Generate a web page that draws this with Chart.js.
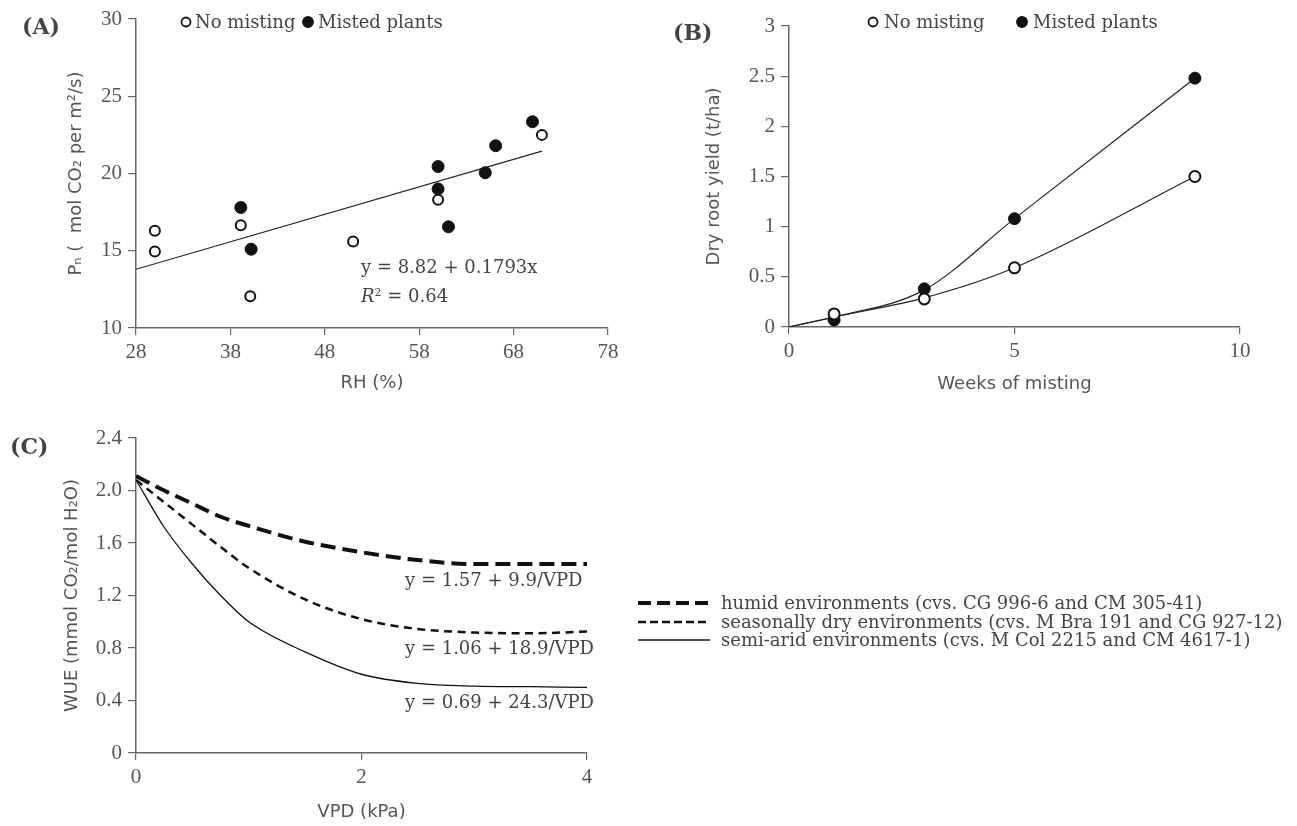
<!DOCTYPE html>
<html>
<head>
<meta charset="utf-8">
<script src="https://cdn.jsdelivr.net/npm/chart.js@4.4.1/dist/chart.umd.min.js"></script>
<style>
  body { margin: 0; background: #fff; }
  #wrap { position: relative; width: 1297px; height: 826px; overflow: hidden; }
  canvas { position: absolute; }
  .tag { position: absolute; font: bold 22px 'DejaVu Serif', serif; color: #444; line-height: 26px; }
  .eq { position: absolute; font: 18px 'DejaVu Serif', serif; color: #444; line-height: 20px; white-space: nowrap; }
  .eq sup { font-size: 11px; vertical-align: 6px; }
</style>
</head>
<body>
<div id="wrap">
  <canvas id="rh" width="640" height="400" style="left:0;top:0"></canvas>
  <canvas id="weeks" width="657" height="400" style="left:640px;top:0"></canvas>
  <canvas id="vpd" width="1297" height="426" style="left:0;top:400px"></canvas>
  <div class="tag" style="left:22px;top:13px">(A)</div>
  <div class="tag" style="left:673px;top:19px">(B)</div>
  <div class="tag" style="left:10px;top:433px">(C)</div>
  <div class="eq" style="left:361px;top:257px">y = 8.82 + 0.1793x</div>
  <div class="eq" style="left:361px;top:283px"><i>R</i><sup>2</sup> = 0.64</div>
  <div class="eq" style="left:405px;top:570px">y = 1.57 + 9.9/VPD</div>
  <div class="eq" style="left:405px;top:638px">y = 1.06 + 18.9/VPD</div>
  <div class="eq" style="left:405px;top:692px">y = 0.69 + 24.3/VPD</div>
</div>
<script>
// (A) photosynthesis vs relative humidity
const rhNoMist = [30, 30, 39.1, 40.1, 51, 60, 71];
const pnNoMist = [16.3, 14.95, 16.65, 12.05, 15.6, 18.3, 22.5];
const rhMisted = [39.1, 40.2, 60, 60, 61.1, 65, 66.1, 70];
const pnMisted = [17.8, 15.1, 20.45, 19.0, 16.55, 20.05, 21.8, 23.35];
const rhFit = [28, 71];
const pnFit = [13.8, 21.45];
const rhTicks = [28, 38, 48, 58, 68, 78];
const pnTicks = [10, 15, 20, 25, 30];

// (B) root yield vs weeks of misting
const weeks = [1, 3, 5, 9];
const yieldNoMist = [0.13, 0.28, 0.59, 1.5];
const yieldMisted = [0.07, 0.38, 1.08, 2.48];
const curveWeeks = [0, 1, 3, 5, 9];
const curveNoMist = [0, 0.1, 0.29, 0.59, 1.5];
const curveMisted = [0, 0.1, 0.37, 1.08, 2.48];
const weekTicks = [0, 5, 10];
const yieldTicks = [0, 0.5, 1, 1.5, 2, 2.5, 3];

// (C) WUE vs VPD
const vpd = [0, 0.25, 0.5, 0.75, 1, 1.5, 2, 2.5, 3, 3.5, 4];
const wueHumid = [2.11, 2.0, 1.9, 1.8, 1.73, 1.61, 1.53, 1.47, 1.44, 1.44, 1.44];
const wueSeasonal = [2.08, 1.91, 1.74, 1.57, 1.41, 1.17, 1.02, 0.945, 0.918, 0.912, 0.925];
const wueSemiArid = [2.08, 1.72, 1.44, 1.2, 1.0, 0.77, 0.6, 0.53, 0.51, 0.505, 0.5];
const vpdTicks = [0, 2, 4];
const wueTicks = [0, 0.4, 0.8, 1.2, 1.6, 2.0, 2.4];

const grey = '#555';
const ink = '#111';
Chart.defaults.font.family = "'Liberation Serif', serif";
Chart.defaults.font.size = 21;
Chart.defaults.color = grey;

const pts = (xs, ys) => xs.map((x, i) => ({ x: x, y: ys[i] }));

function axis(o) {
  return {
    type: 'linear',
    position: o.horizontal ? 'bottom' : 'left',
    min: o.ticks[0],
    max: o.ticks[o.ticks.length - 1],
    afterBuildTicks: s => { s.ticks = o.ticks.map(v => ({ value: v })); },
    afterFit: s => { if (o.horizontal) s.height = o.fit; else s.width = o.fit; },
    ticks: {
      color: grey,
      padding: o.horizontal ? 5 : 6,
      maxRotation: 0,
      autoSkip: false,
      callback: o.format || (v => String(v))
    },
    grid: { drawOnChartArea: false, drawTicks: true, tickLength: o.horizontal ? 7 : 8, color: '#666', lineWidth: 1.2 },
    border: { display: true, color: '#666', width: 1.5 },
    title: {
      display: true,
      text: o.title,
      color: grey,
      font: { family: "'DejaVu Sans', sans-serif", size: 18 },
      padding: o.titlePad
    }
  };
}

// draws the small keys (legend) at fixed spots
const keyPlugin = {
  id: 'key',
  afterDatasetsDraw(chart, args, o) {
    if (!o.items) return;
    const ctx = chart.ctx;
    ctx.save();
    ctx.font = o.font;
    ctx.textBaseline = 'middle';
    o.items.forEach(it => {
      const ds = chart.data.datasets[it.ds];
      ctx.save();
      if (it.w) {
        ctx.strokeStyle = ds.borderColor;
        ctx.lineWidth = ds.borderWidth;
        ctx.setLineDash(it.dash || ds.borderDash || []);
        ctx.beginPath();
        ctx.moveTo(it.x, it.y);
        ctx.lineTo(it.x + it.w, it.y);
        ctx.stroke();
      } else {
        ctx.beginPath();
        ctx.arc(it.x, it.y, it.r, 0, Math.PI * 2);
        ctx.fillStyle = ds.pointBackgroundColor;
        ctx.fill();
        ctx.strokeStyle = ds.pointBorderColor;
        ctx.lineWidth = 1.8;
        ctx.stroke();
      }
      ctx.restore();
      ctx.fillStyle = o.color;
      ctx.fillText(ds.label, it.tx, it.y + 1);
    });
    ctx.restore();
  }
};

const base = { responsive: false, animation: false, events: [] };

new Chart(document.getElementById('rh'), {
  type: 'scatter',
  plugins: [keyPlugin],
  data: {
    datasets: [
      { label: 'No misting', data: pts(rhNoMist, pnNoMist), pointRadius: 5, pointBorderWidth: 2,
        pointBackgroundColor: '#fff', pointBorderColor: ink },
      { label: 'Misted plants', data: pts(rhMisted, pnMisted), pointRadius: 6, pointBorderWidth: 1,
        pointBackgroundColor: ink, pointBorderColor: ink },
      { label: 'fit', data: pts(rhFit, pnFit), showLine: true, pointRadius: 0, borderColor: '#222', borderWidth: 1.2 }
    ]
  },
  options: Object.assign({}, base, {
    layout: { padding: { left: 0, top: 19, right: 32, bottom: 0 } },
    scales: {
      x: axis({ horizontal: true, ticks: rhTicks, fit: 72, title: 'RH (%)', titlePad: { top: 0, bottom: 6 } }),
      y: axis({ ticks: pnTicks, fit: 136, title: 'Pₙ (  mol CO₂ per m²/s)', titlePad: { top: 66, bottom: 0 } })
    },
    plugins: {
      legend: { display: false },
      tooltip: { enabled: false },
      key: { font: "18px 'DejaVu Serif'", color: '#444', items: [
        { ds: 0, x: 186, y: 22, r: 4.5, tx: 195 },
        { ds: 1, x: 308, y: 22, r: 5, tx: 318 }
      ] }
    }
  })
});

new Chart(document.getElementById('weeks'), {
  type: 'scatter',
  plugins: [keyPlugin],
  data: {
    datasets: [
      { label: 'No misting', data: pts(weeks, yieldNoMist), pointRadius: 5.5, pointBorderWidth: 2,
        pointBackgroundColor: '#fff', pointBorderColor: ink },
      { label: 'Misted plants', data: pts(weeks, yieldMisted), pointRadius: 6, pointBorderWidth: 1,
        pointBackgroundColor: ink, pointBorderColor: ink },
      { label: 'curve no misting', data: pts(curveWeeks, curveNoMist), showLine: true, pointRadius: 0,
        borderColor: '#222', borderWidth: 1.2, cubicInterpolationMode: 'monotone' },
      { label: 'curve misted', data: pts(curveWeeks, curveMisted), showLine: true, pointRadius: 0,
        borderColor: '#222', borderWidth: 1.2, cubicInterpolationMode: 'monotone' }
    ]
  },
  options: Object.assign({}, base, {
    layout: { padding: { left: 0, top: 26, right: 57, bottom: 0 } },
    scales: {
      x: axis({ horizontal: true, ticks: weekTicks, fit: 73, title: 'Weeks of misting', titlePad: { top: 0, bottom: 5 } }),
      y: axis({ ticks: yieldTicks, fit: 149, title: 'Dry root yield (t/ha)', titlePad: { top: 64, bottom: 0 } })
    },
    plugins: {
      legend: { display: false },
      tooltip: { enabled: false },
      key: { font: "18px 'DejaVu Serif'", color: '#444', items: [
        { ds: 0, x: 233, y: 22, r: 4.5, tx: 244 },
        { ds: 1, x: 382, y: 22, r: 5, tx: 393 }
      ] }
    }
  })
});

new Chart(document.getElementById('vpd'), {
  type: 'scatter',
  plugins: [keyPlugin],
  data: {
    datasets: [
      { label: 'humid environments (cvs. CG 996-6 and CM 305-41)', data: pts(vpd, wueHumid), showLine: true,
        pointRadius: 0, borderColor: ink, borderWidth: 4, borderDash: [15, 7], cubicInterpolationMode: 'monotone' },
      { label: 'seasonally dry environments (cvs. M Bra 191 and CG 927-12)', data: pts(vpd, wueSeasonal), showLine: true,
        pointRadius: 0, borderColor: ink, borderWidth: 2.5, borderDash: [8, 5.5], cubicInterpolationMode: 'monotone' },
      { label: 'semi-arid environments (cvs. M Col 2215 and CM 4617-1)', data: pts(vpd, wueSemiArid), showLine: true,
        pointRadius: 0, borderColor: ink, borderWidth: 1.3, cubicInterpolationMode: 'monotone' }
    ]
  },
  options: Object.assign({}, base, {
    layout: { padding: { left: 0, top: 38, right: 710, bottom: 0 } },
    scales: {
      x: axis({ horizontal: true, ticks: vpdTicks, fit: 73, title: 'VPD (kPa)', titlePad: { top: 0, bottom: 3 } }),
      y: axis({ ticks: wueTicks, fit: 136, title: 'WUE (mmol CO₂/mol H₂O)', titlePad: { top: 62, bottom: 0 },
        format: v => (v === 0 ? '0' : v.toFixed(1)) })
    },
    plugins: {
      legend: { display: false },
      tooltip: { enabled: false },
      key: { font: "18px 'DejaVu Serif'", color: '#444', items: [
        { ds: 0, x: 638, y: 603, w: 72, tx: 721, dash: [13, 6] },
        { ds: 1, x: 638, y: 622, w: 72, tx: 721, dash: [8, 4] },
        { ds: 2, x: 638, y: 640, w: 72, tx: 721 }
      ].map(it => Object.assign(it, { y: it.y - 400 })) }
    }
  })
});
</script>
</body>
</html>
